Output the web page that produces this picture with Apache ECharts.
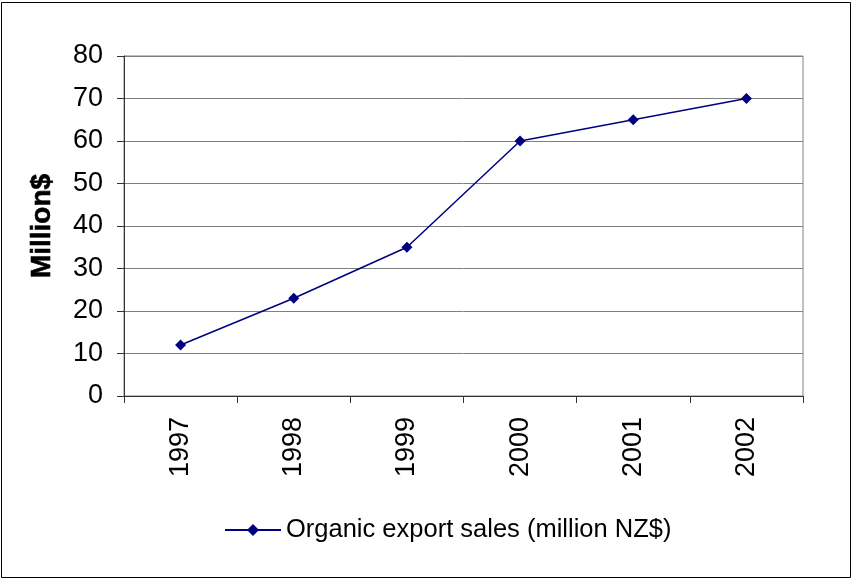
<!DOCTYPE html>
<html><head><meta charset="utf-8">
<script src="https://cdn.jsdelivr.net/npm/echarts@6/dist/echarts.min.js"></script>
<style>html,body{margin:0;padding:0;background:#fff}#c{width:853px;height:581px}</style>
</head><body><div id="c"></div>
<script>
const categories = ['1997','1998','1999','2000','2001','2002'];
const salesValues = [12, 23, 35, 60, 65, 70];
const seriesName = 'Organic export sales (million NZ$)';
const yAxisTitle = 'Million$';

const chart = echarts.init(document.getElementById('c'));
const font = '"Liberation Sans", Arial, sans-serif';
chart.setOption({
  animation: false,
  backgroundColor: '#fff',
  graphic: [{
    type: 'rect', shape: {x: 1.5, y: 2.5, width: 849, height: 575},
    style: {fill: 'none', stroke: '#000', lineWidth: 1}, z: -1
  }],
  grid: {left: 124, right: 50, top: 56, bottom: 185, show: true, borderColor: '#808080', borderWidth: 1},
  legend: {
    left: 219, top: 512, itemWidth: 56, itemHeight: 15, itemGap: 5,
    textStyle: {fontFamily: font, fontSize: 25.5, color: '#000'},
    data: [seriesName]
  },
  xAxis: {
    type: 'category', data: categories, boundaryGap: true,
    axisLine: {lineStyle: {color: '#333', width: 1}},
    axisTick: {show: true, length: 7, lineStyle: {color: '#333'}},
    axisLabel: {rotate: 90, margin: 21, fontFamily: font, fontSize: 27, color: '#000'}
  },
  yAxis: {
    type: 'value', min: 0, max: 80, interval: 10,
    name: yAxisTitle, nameLocation: 'middle', nameGap: 68, nameRotate: 90,
    nameTextStyle: {fontFamily: font, fontSize: 28, fontWeight: 'bold', color: '#000', textBorderColor: '#000', textBorderWidth: 0.6},
    axisLine: {show: true, lineStyle: {color: '#333', width: 1}},
    axisTick: {show: true, length: 7, lineStyle: {color: '#333'}},
    axisLabel: {margin: 21, fontFamily: font, fontSize: 27, color: '#000'},
    splitLine: {lineStyle: {color: '#808080', width: 1}}
  },
  series: [{
    name: seriesName, type: 'line', data: salesValues,
    symbol: 'diamond', symbolSize: 11,
    lineStyle: {color: '#000080', width: 1.5},
    itemStyle: {color: '#000080'}
  }]
});
</script></body></html>
